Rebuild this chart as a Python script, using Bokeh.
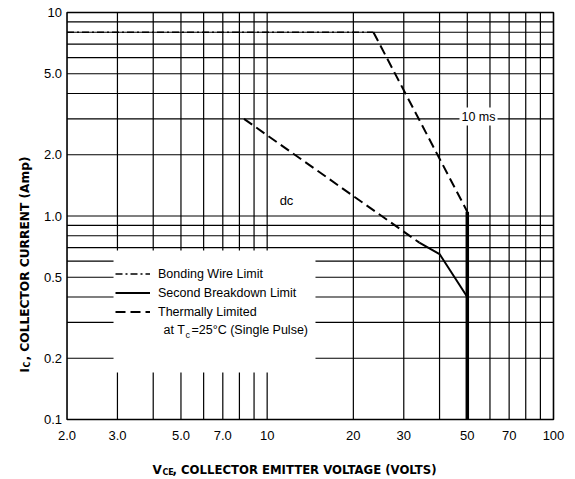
import math
from bokeh.plotting import figure
from bokeh.models import FixedTicker, Label, Legend, LegendItem
from bokeh.embed import file_html
from bokeh.resources import INLINE

# ---- data ----
x_ticks = [2, 3, 5, 7, 10, 20, 30, 50, 70, 100]
x_tick_labels = ["2.0", "3.0", "5.0", "7.0", "10", "20", "30", "50", "70", "100"]
y_ticks = [0.1, 0.2, 0.5, 1, 2, 5, 10]
y_tick_labels = ["0.1", "0.2", "0.5", "1.0", "2.0", "5.0", "10"]
x_grid = [3, 4, 5, 6, 7, 8, 9, 10, 20, 30, 40, 50, 60, 70, 80, 90]
y_grid = [0.2, 0.3, 0.4, 0.5, 0.6, 0.7, 0.8, 0.9, 1, 2, 3, 4, 5, 6, 7, 8, 9]
x_min, x_max = 2.0, 100.0
y_min, y_max = 0.1, 10.0

ten_ms_v = [23.5, 50.0]
ten_ms_i = [8.0, 1.05]
dc_thermal_v = [8.3, 34.0]
dc_thermal_i = [3.0, 0.74]
dc_sb_v = [34.0, 40.0, 50.0]
dc_sb_i = [0.74, 0.65, 0.40]
vceo_v = [50.0, 50.0]
vceo_i = [1.05, 0.1]
bond_v = [2.0, 23.5]
bond_i = [8.0, 8.0]

SANS = "Liberation Sans"
BOLD = "DejaVu Sans"

# frame fills the whole canvas; the chart box (2..100, 0.1..10) sits inside it
p = figure(x_axis_type="log", y_axis_type="log",
           x_range=(1.1714, 119.36), y_range=(0.05072, 11.455),
           width=575, height=479, min_border=0,
           output_backend="svg", toolbar_location=None)
p.background_fill_color = "white"
p.border_fill_color = "white"
p.outline_line_color = None
p.grid.visible = False

p.xaxis.fixed_location = y_min
p.yaxis.fixed_location = x_min
for ax in (p.xaxis[0], p.yaxis[0]):
    ax.axis_line_color = None
    ax.major_tick_line_color = None
    ax.minor_tick_line_color = None
    ax.major_tick_out = 0
    ax.major_tick_in = 0
    ax.major_label_text_font = SANS
    ax.major_label_text_font_size = "13px"
    ax.major_label_text_color = "black"

p.xaxis[0].ticker = FixedTicker(ticks=x_ticks)
p.xaxis[0].major_label_overrides = {t: s for t, s in zip(x_ticks, x_tick_labels)}
p.xaxis[0].major_label_standoff = 11
p.yaxis[0].ticker = FixedTicker(ticks=y_ticks)
p.yaxis[0].major_label_overrides = {t: s for t, s in zip(y_ticks, y_tick_labels)}
p.yaxis[0].major_label_standoff = 5

# log-paper grid
p.segment(x0=x_grid, y0=y_min, x1=x_grid, y1=y_max, line_color="black", line_width=1.2)
p.segment(x0=x_min, y0=y_grid, x1=x_max, y1=y_grid, line_color="black", line_width=1.2)

# blank area behind legend
p.quad(left=[2.907], right=[14.75], bottom=[0.1702], top=[0.6767],
       fill_color="white", line_color=None)

# chart box
p.quad(left=[x_min], right=[x_max], bottom=[y_min], top=[y_max],
       fill_color=None, line_color="black", line_width=1.6)

r_bond = p.line(bond_v, bond_i, line_color="black", line_width=1.5, line_dash="7 3 2 3")
r_10ms = p.line(ten_ms_v, ten_ms_i, line_color="black", line_width=2, line_dash="10 5")
r_dct = p.line(dc_thermal_v, dc_thermal_i, line_color="black", line_width=2, line_dash="10 5")
r_sb = p.line(dc_sb_v, dc_sb_i, line_color="black", line_width=2)
p.line(vceo_v, vceo_i, line_color="black", line_width=3.5)

legend = Legend(items=[
    LegendItem(label="Bonding Wire Limit", renderers=[r_bond]),
    LegendItem(label="Second Breakdown Limit", renderers=[r_sb]),
    LegendItem(label="Thermally Limited", renderers=[r_dct]),
], location=(115, 158), padding=0, margin=0, spacing=0,
    glyph_width=35, glyph_height=19, label_height=19, label_standoff=8,
    border_line_color=None, background_fill_alpha=0,
    label_text_font=SANS, label_text_font_size="12.5px", label_text_color="black")
p.add_layout(legend)

def lab(text, x, y, size, font=SANS, style="normal", angle=0, align="left",
        baseline="middle", bg=None):
    # x, y: screen pixels from the canvas' left / bottom edge
    p.add_layout(Label(x=x, y=y, x_units="screen", y_units="screen", text=text,
                       text_font=font, text_font_size=size, text_font_style=style,
                       text_align=align, text_baseline=baseline, angle=angle,
                       text_color="black", background_fill_color=bg,
                       padding=2 if bg else 0))

# condition note
lab("at T", 163, 150, "12.5px")
lab("c", 185, 145, "9px")
lab("=25°C (Single Pulse)", 191, 150, "12.5px")

# curve annotations
lab("dc", 286, 279, "13px", align="center")
lab("10 ms", 478, 363, "12.5px", align="center", bg="white")

# x axis title
lab("V", 152, 10, "12px", font=BOLD, style="bold")
lab("CE", 162, 7, "8px", font=BOLD, style="bold")
lab(", COLLECTOR EMITTER VOLTAGE (VOLTS)", 172, 10, "11.7px", font=BOLD, style="bold")

# y axis title
lab("I", 24, 107, "12px", font=BOLD, style="bold", angle=math.pi / 2)
lab("C", 27, 112, "8px", font=BOLD, style="bold", angle=math.pi / 2)
lab(", COLLECTOR CURRENT (Amp)", 24, 119, "12.2px", font=BOLD, style="bold", angle=math.pi / 2)

open("out.html", "w").write(file_html(p, INLINE))
